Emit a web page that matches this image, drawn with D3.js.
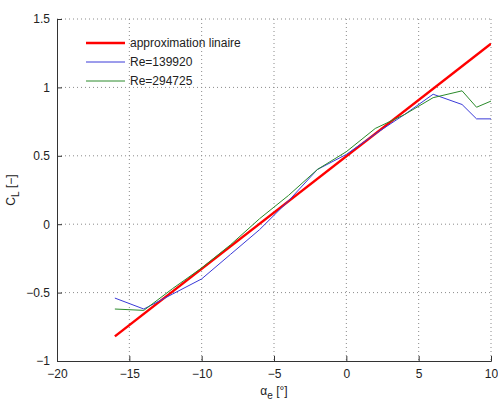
<!DOCTYPE html>
<html>
<head>
<meta charset="utf-8">
<script src="https://cdnjs.cloudflare.com/ajax/libs/d3/7.8.5/d3.min.js"></script>
<style>
  body { margin: 0; background: #fff; }
  text { font-family: "Liberation Sans", Arial, sans-serif; }
</style>
</head>
<body>
<div id="chart"></div>
<script>
// angle of attack (deg) and lift coefficient readings
var linAlpha = [-16, 10];
var linCl = [-0.82, 1.32];

var reAAlpha = [-16, -14, -12, -10, -8, -6, -4, -2, 0, 2, 4, 6, 8, 9, 10];
var reACl = [-0.54, -0.62, -0.51, -0.40, -0.22, -0.04, 0.17, 0.40, 0.51, 0.66, 0.80, 0.95, 0.875, 0.77, 0.77];

var reBAlpha = [-16, -14, -12, -10, -8, -6, -4, -2, 0, 2, 4, 6, 8, 9, 10];
var reBCl = [-0.62, -0.63, -0.47, -0.32, -0.15, 0.04, 0.21, 0.40, 0.53, 0.70, 0.80, 0.925, 0.975, 0.855, 0.90];

var xTicks = [-20, -15, -10, -5, 0, 5, 10];
var yTicks = [-1, -0.5, 0, 0.5, 1, 1.5];

var series = [
    {name: 'approximation linaire', a: linAlpha, c: linCl, color: '#ff0000', width: 2.5},
    {name: 'Re=139920', a: reAAlpha, c: reACl, color: '#3a3ad8', width: 1},
    {name: 'Re=294725', a: reBAlpha, c: reBCl, color: '#2a8a2a', width: 1}
];

var w = 498, h = 402;
var pLeft = 57, pRight = 491, pTop = 19, pBottom = 361;

var svg = d3.select('#chart').append('svg')
    .attr('width', w)
    .attr('height', h);

var x = d3.scaleLinear().domain([-20, 10]).range([pLeft, pRight]);
var y = d3.scaleLinear().domain([-1, 1.5]).range([pBottom, pTop]);

// clip so lines stay inside the axes
svg.append('clipPath').attr('id', 'clip')
    .append('rect')
    .attr('x', pLeft).attr('y', pTop)
    .attr('width', pRight - pLeft).attr('height', pBottom - pTop);

// dotted grid
var grid = svg.append('g');
grid.selectAll('line.gx')
    .data(xTicks.slice(1))
    .enter().append('line')
    .attr('class', 'gx')
    .attr('x1', function (d) { return x(d); })
    .attr('x2', function (d) { return x(d); })
    .attr('y1', pTop).attr('y2', pBottom);
grid.selectAll('line.gy')
    .data(yTicks.slice(1))
    .enter().append('line')
    .attr('class', 'gy')
    .attr('x1', pLeft).attr('x2', pRight)
    .attr('y1', function (d) { return y(d); })
    .attr('y2', function (d) { return y(d); });
grid.selectAll('line')
    .attr('stroke', '#8a8a8a')
    .attr('stroke-width', 1)
    .attr('stroke-dasharray', '1,3');

// axes (box off, ticks inward)
var fmt = function (d) { return d < 0 ? '\u2212' + Math.abs(d) : d; };
var xAxis = d3.axisBottom(x).tickValues(xTicks).tickSize(-5).tickPadding(8).tickFormat(fmt);
var yAxis = d3.axisLeft(y).tickValues(yTicks).tickSize(-5).tickPadding(7).tickFormat(fmt);

var gx = svg.append('g')
    .attr('transform', 'translate(0,' + pBottom + ')')
    .call(xAxis);
var gy = svg.append('g')
    .attr('transform', 'translate(' + pLeft + ',0)')
    .call(yAxis);

[gx, gy].forEach(function (g) {
    g.select('.domain').attr('stroke', '#333').attr('stroke-width', 1);
    g.selectAll('.tick line').attr('stroke', '#333');
    g.selectAll('.tick text')
        .attr('fill', '#222')
        .style('font-size', '12px')
        .style('font-family', '"Liberation Sans", Arial, sans-serif');
});

// data lines
var line = d3.line()
    .x(function (d) { return x(d[0]); })
    .y(function (d) { return y(d[1]); });

svg.append('g')
    .attr('clip-path', 'url(#clip)')
    .selectAll('path')
    .data(series)
    .enter().append('path')
    .attr('d', function (s) {
        return line(s.a.map(function (v, i) { return [v, s.c[i]]; }));
    })
    .attr('fill', 'none')
    .attr('stroke', function (s) { return s.color; })
    .attr('stroke-width', function (s) { return s.width; })
    .attr('stroke-linejoin', 'round');

// legend
var legend = svg.append('g').attr('transform', 'translate(86,43)');
var item = legend.selectAll('g')
    .data(series)
    .enter().append('g')
    .attr('transform', function (d, i) { return 'translate(0,' + (i * 19) + ')'; });
item.append('line')
    .attr('x1', 0).attr('x2', 39)
    .attr('y1', 0).attr('y2', 0)
    .attr('stroke', function (s) { return s.color; })
    .attr('stroke-width', function (s) { return s.width; });
item.append('text')
    .attr('x', 44)
    .attr('dy', '0.35em')
    .attr('fill', '#222')
    .style('font-size', '12px')
    .text(function (s) { return s.name; });

// axis labels, centred on the axes like matlab does
var xl = svg.append('text')
    .attr('x', (pLeft + pRight) / 2).attr('y', 395)
    .attr('text-anchor', 'middle')
    .attr('fill', '#222')
    .style('font-size', '12px');
xl.append('tspan').text('\u03b1');
xl.append('tspan').attr('dy', 4).style('font-size', '10px').text('e');
xl.append('tspan').attr('dy', -4).text(' [\u00b0]');

var yl = svg.append('text')
    .attr('transform', 'translate(15,' + ((pTop + pBottom) / 2) + ') rotate(-90)')
    .attr('text-anchor', 'middle')
    .attr('fill', '#222')
    .style('font-size', '12px');
yl.append('tspan').text('C');
yl.append('tspan').attr('dy', 4).style('font-size', '10px').text('L');
yl.append('tspan').attr('dy', -4).text(' [\u2212]');
</script>
</body>
</html>
